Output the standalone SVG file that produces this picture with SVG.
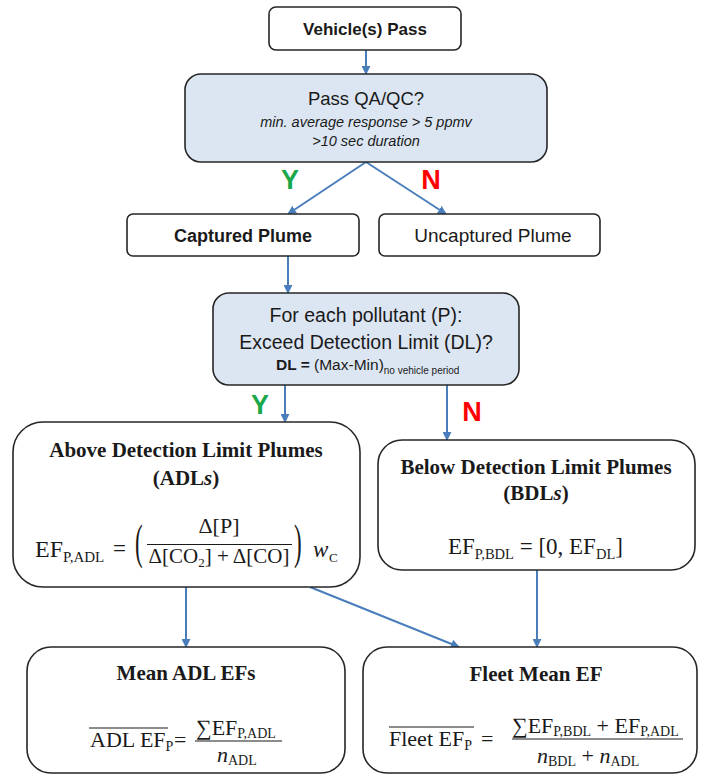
<svg xmlns="http://www.w3.org/2000/svg" width="707" height="775" viewBox="0 0 707 775">
<defs>
<marker id="ah" viewBox="0 0 10 10" refX="9" refY="5" markerWidth="4.5" markerHeight="4.5" orient="auto" markerUnits="strokeWidth">
<path d="M0,0 L10,5 L0,10 z" fill="#4a7ebb"/>
</marker>
<style>
.box{fill:#ffffff;stroke:#262626;stroke-width:1.6}
.blue{fill:#dce6f2;stroke:#262626;stroke-width:1.6}
.sans{font-family:"Liberation Sans",Arial,sans-serif;fill:#1a1a1a}
.serif{font-family:"Liberation Serif","Times New Roman",serif;fill:#1a1a1a}
.b{font-weight:bold}
.it{font-style:italic}
.con{stroke:#4a7ebb;stroke-width:2;fill:none;marker-end:url(#ah)}
.yes{font-family:"Liberation Sans",Arial,sans-serif;font-weight:bold;font-size:27px;fill:#1aa84a}
.no{font-family:"Liberation Sans",Arial,sans-serif;font-weight:bold;font-size:27px;fill:#ff0000}
.mline{stroke:#1a1a1a;stroke-width:1.2}
</style>
</defs>
<rect width="707" height="775" fill="#ffffff"/>

<g id="connectors">
<line class="con" x1="366" y1="50" x2="366" y2="74"/>
<line class="con" x1="366" y1="162" x2="288" y2="214"/>
<line class="con" x1="366" y1="162" x2="446" y2="214"/>
<line class="con" x1="288" y1="256" x2="288" y2="293"/>
<line class="con" x1="285" y1="385" x2="285" y2="422"/>
<line class="con" x1="447" y1="385" x2="447" y2="440"/>
<line class="con" x1="186" y1="587" x2="186" y2="647"/>
<line class="con" x1="310" y1="587" x2="459" y2="647"/>
<line class="con" x1="537" y1="570" x2="537" y2="647"/>
<text class="yes" x="290" y="189" text-anchor="middle">Y</text>
<text class="no" x="431" y="189" text-anchor="middle">N</text>
<text class="yes" x="260" y="414" text-anchor="middle">Y</text>
<text class="no" x="472" y="421" text-anchor="middle">N</text>
</g>

<g id="vehicle-pass">
<rect class="box" x="269" y="7" width="192" height="43" rx="7"/>
<text class="sans b" x="365" y="35" font-size="17" text-anchor="middle">Vehicle(s) Pass</text>
</g>

<g id="qaqc">
<rect class="blue" x="185" y="74" width="362" height="88" rx="16"/>
<text class="sans" x="366" y="105" font-size="18.5" text-anchor="middle">Pass QA/QC?</text>
<text class="sans it" x="366" y="127" font-size="14.5" text-anchor="middle">min. average response &gt; 5 ppmv</text>
<text class="sans it" x="366" y="146" font-size="14.5" text-anchor="middle">&gt;10 sec duration</text>
</g>

<g id="captured">
<rect class="box" x="127" y="214" width="232" height="42" rx="6"/>
<text class="sans b" x="243" y="242" font-size="18" text-anchor="middle">Captured Plume</text>
</g>

<g id="uncaptured">
<rect class="box" x="379" y="214" width="221" height="42" rx="6"/>
<text class="sans" x="493" y="242" font-size="19" text-anchor="middle">Uncaptured Plume</text>
</g>

<g id="detection">
<rect class="blue" x="213" y="293" width="306" height="92" rx="16"/>
<text class="sans" x="366" y="322" font-size="19.5" text-anchor="middle">For each pollutant (P):</text>
<text class="sans" x="366" y="349" font-size="19.5" text-anchor="middle">Exceed Detection Limit (DL)?</text>
<text class="sans" x="276" y="370" font-size="15.5"><tspan font-weight="bold">DL = </tspan>(Max-Min)<tspan font-size="10" dy="4">no vehicle period</tspan></text>
</g>

<g id="adl">
<rect class="box" x="13" y="422" width="347" height="165" rx="30"/>
<text class="serif b" x="186" y="457" font-size="21" text-anchor="middle">Above Detection Limit Plumes</text>
<text class="serif b" x="186" y="485" font-size="21" text-anchor="middle">(ADL<tspan font-style="italic">s</tspan>)</text>
<text class="serif" x="35" y="557" font-size="24">EF<tspan font-size="15" dy="5">P,ADL</tspan></text>
<text class="serif" x="113" y="556" font-size="23">=</text>
<text class="serif" x="0" y="0" font-size="23" transform="translate(135,558) scale(1,2.1)">(</text>
<text class="serif" x="219" y="533" font-size="22" text-anchor="middle">Δ[P]</text>
<line class="mline" x1="147" y1="544.5" x2="292" y2="544.5"/>
<text class="serif" x="219" y="563" font-size="21" text-anchor="middle">Δ[CO<tspan font-size="13" dy="4">2</tspan><tspan dy="-4">] + Δ[CO]</tspan></text>
<text class="serif" x="0" y="0" font-size="23" transform="translate(294,558) scale(1,2.1)">)</text>
<text class="serif it" x="313" y="557" font-size="23">w</text>
<text class="serif" x="329" y="562" font-size="13">C</text>
</g>

<g id="bdl">
<rect class="box" x="378" y="440" width="317" height="130" rx="24"/>
<text class="serif b" x="536" y="474" font-size="21" text-anchor="middle">Below Detection Limit Plumes</text>
<text class="serif b" x="536" y="500" font-size="21" text-anchor="middle">(BDL<tspan font-style="italic">s</tspan>)</text>
<text class="serif" x="448" y="554" font-size="23">EF<tspan font-size="14.5" dy="5">P,BDL</tspan><tspan dy="-5"> = [0, EF</tspan><tspan font-size="14.5" dy="5">DL</tspan><tspan dy="-5">]</tspan></text>
</g>

<g id="mean-adl">
<rect class="box" x="27" y="647" width="318" height="126" rx="24"/>
<text class="serif b" x="186" y="680" font-size="21" text-anchor="middle">Mean ADL EFs</text>
<line class="mline" x1="89" y1="728" x2="168" y2="728"/>
<text class="serif" x="90" y="747" font-size="22">ADL EF<tspan font-size="14" dy="4">P</tspan></text>
<text class="serif" x="174" y="747" font-size="22">=</text>
<text class="serif" x="196" y="735" font-size="22">∑EF<tspan font-size="14" dy="3">P,ADL</tspan></text>
<line class="mline" x1="195" y1="741" x2="282" y2="741"/>
<text class="serif" x="217" y="762" font-size="22"><tspan font-style="italic">n</tspan><tspan font-size="14" dy="3">ADL</tspan></text>
</g>

<g id="fleet-mean">
<rect class="box" x="363" y="647" width="334" height="126" rx="24"/>
<text class="serif b" x="536" y="681" font-size="21" text-anchor="middle">Fleet Mean EF</text>
<line class="mline" x1="389" y1="727" x2="474" y2="727"/>
<text class="serif" x="389" y="746" font-size="22">Fleet EF<tspan font-size="14" dy="4">P</tspan></text>
<text class="serif" x="481" y="746" font-size="22">=</text>
<text class="serif" x="512" y="733" font-size="22">∑EF<tspan font-size="14" dy="3">P,BDL</tspan><tspan dy="-3"> + EF</tspan><tspan font-size="14" dy="3">P,ADL</tspan></text>
<line class="mline" x1="512" y1="739" x2="683" y2="739"/>
<text class="serif" x="537" y="763" font-size="22"><tspan font-style="italic">n</tspan><tspan font-size="14" dy="3">BDL</tspan><tspan dy="-3"> + </tspan><tspan font-style="italic">n</tspan><tspan font-size="14" dy="3">ADL</tspan></text>
</g>
</svg>
